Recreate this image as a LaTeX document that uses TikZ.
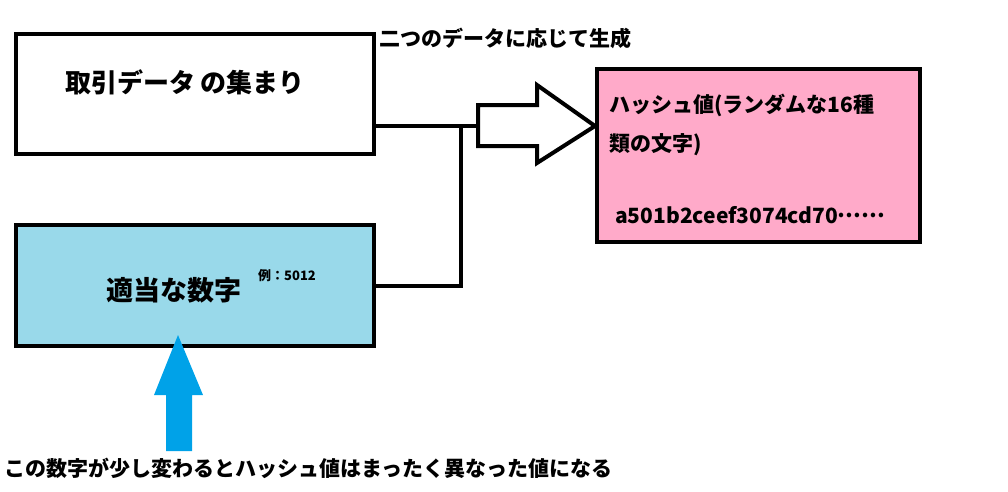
\documentclass[tikz,border=0pt]{standalone}
\usepackage{fontspec}
\setmainfont{Noto Sans CJK JP}
\begin{document}
\begin{tikzpicture}[x=1pt,y=-1pt,
  box/.style={draw=black,line width=4pt,minimum width=358pt,minimum height=120pt,inner sep=0pt},
  txt/.style={inner sep=0pt,font=\bfseries},
  conn/.style={line width=4pt},
]
\useasboundingbox (0,0) rectangle (1008,491);
\definecolor{lblue}{RGB}{153,217,234}
\definecolor{pinkc}{RGB}{255,170,201}
\definecolor{arrblue}{RGB}{0,162,232}

\node[box,fill=white] (box1) at (195,94) {};
\node[box,fill=lblue,minimum height=121pt] (box2) at (195,285.5) {};
\node[draw=black,line width=4pt,fill=pinkc,minimum width=323pt,minimum height=173pt,inner sep=0pt] (hash) at (758.5,155.5) {};

\node[txt,font=\fontsize{26}{26}\selectfont\bfseries] (t1) at (185,82) {取引データ の集まり};
\node[txt,font=\fontsize{27}{27}\selectfont\bfseries] (t2) at (174,290) {適当な数字};
\node[txt,font=\fontsize{13}{13}\selectfont\bfseries] (ex) at (287,276) {例：5012};

\node[txt,anchor=west,font=\fontsize{21}{21}\selectfont\bfseries] (h1) at (609,105) {ハッシュ値(ランダムな16種};
\node[txt,anchor=west,font=\fontsize{21}{21}\selectfont\bfseries] (h2) at (609,145) {類の文字)};
\node[txt,anchor=west,font=\fontsize{21}{21}\selectfont\bfseries] (h3) at (615,215) {a501b2ceef3074cd70\raisebox{0.28em}{……}};

\node[txt,anchor=west,font=\fontsize{21}{21}\selectfont\bfseries] (lab) at (379,38) {二つのデータに応じて生成};
\node[txt,anchor=west,font=\fontsize{21}{21}\selectfont\bfseries] (bot) at (4,468) {この数字が少し変わるとハッシュ値はまったく異なった値になる};

% hollow arrow
\coordinate (atail) at (478,126);
\coordinate (atip) at (595,126);
\draw[line width=4pt,line join=miter,fill=white] (atail) -- ++(0,-21) -- (537,105) -- (537,85) -- (atip) -- (537,163) -- (537,146) -- (478,146) -- cycle;

% connectors
\coordinate (jn) at (461,126);
\draw[conn] (box1.east |- atail) -- (atail);
\draw[conn] (box2.east) -| (jn);

% blue arrow
\coordinate (btip) at (178,335);
\fill[arrblue] (btip) -- (203,395) -- (192,395) -- (192,451) -- (166,451) -- (166,395) -- (154,395) -- cycle;
\end{tikzpicture}
\end{document}
